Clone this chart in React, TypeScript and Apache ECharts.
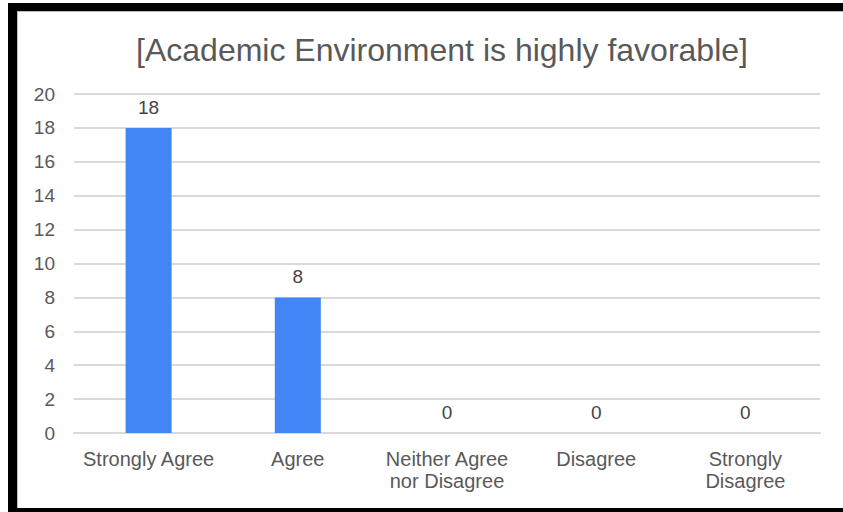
import React, { useEffect, useRef } from "react";
import * as echarts from "echarts";

const titleText = "[Academic Environment is highly favorable]";
const categories = ["Strongly Agree", "Agree", "Neither Agree\nnor Disagree", "Disagree", "Strongly\nDisagree"];
const counts = [18, 8, 0, 0, 0];
const yMin = 0;
const yMax = 20;
const yStep = 2;

export default function App() {
  const ref = useRef<HTMLDivElement>(null);
  useEffect(() => {
    document.body.style.margin = "0";
    const chart = echarts.init(ref.current!, null, { renderer: "svg" });
    const font = "'Liberation Sans', Arial, sans-serif";
    chart.setOption({
      animation: false,
      backgroundColor: "#ffffff",
      title: {
        text: titleText,
        left: 437,
        top: 29,
        textAlign: "center",
        textStyle: { fontFamily: font, fontSize: 32, fontWeight: "normal", color: "#595959" },
      },
      grid: { left: 74, right: 23, top: 94, bottom: 79 },
      xAxis: {
        type: "category",
        data: categories,
        axisLine: { show: true, lineStyle: { color: "#d9d9d9", width: 2 } },
        axisTick: { show: false },
        axisLabel: {
          fontFamily: font,
          fontSize: 20,
          color: "#595959",
          margin: 15,
          lineHeight: 22,
          interval: 0,
        },
      },
      yAxis: {
        type: "value",
        min: yMin,
        max: yMax,
        interval: yStep,
        axisLine: { show: false },
        axisTick: { show: false },
        splitLine: { lineStyle: { color: "#d9d9d9", width: 2 } },
        axisLabel: { fontFamily: font, fontSize: 19, color: "#595959", margin: 19 },
      },
      series: [
        {
          type: "bar",
          data: counts,
          barWidth: 46,
          itemStyle: { color: "#4285F4" },
          label: {
            show: true,
            position: "top",
            distance: 11,
            fontFamily: font,
            fontSize: 19,
            color: "#444444",
          },
        },
      ],
      graphic: [
        { type: "rect", shape: { x: 8, y: 3, width: 835, height: 8 }, style: { fill: "#000" } },
        { type: "rect", shape: { x: 8, y: 3, width: 9, height: 509 }, style: { fill: "#000" } },
        { type: "rect", shape: { x: 8, y: 508, width: 835, height: 4 }, style: { fill: "#000" } },
        { type: "rect", shape: { x: 17, y: 11, width: 826, height: 1 }, style: { fill: "#bbbbbb" } },
        { type: "rect", shape: { x: 17, y: 11, width: 1, height: 497 }, style: { fill: "#bbbbbb" } },
      ],
    });
    return () => chart.dispose();
  }, []);
  return <div ref={ref} style={{ width: 843, height: 512 }} />;
}
